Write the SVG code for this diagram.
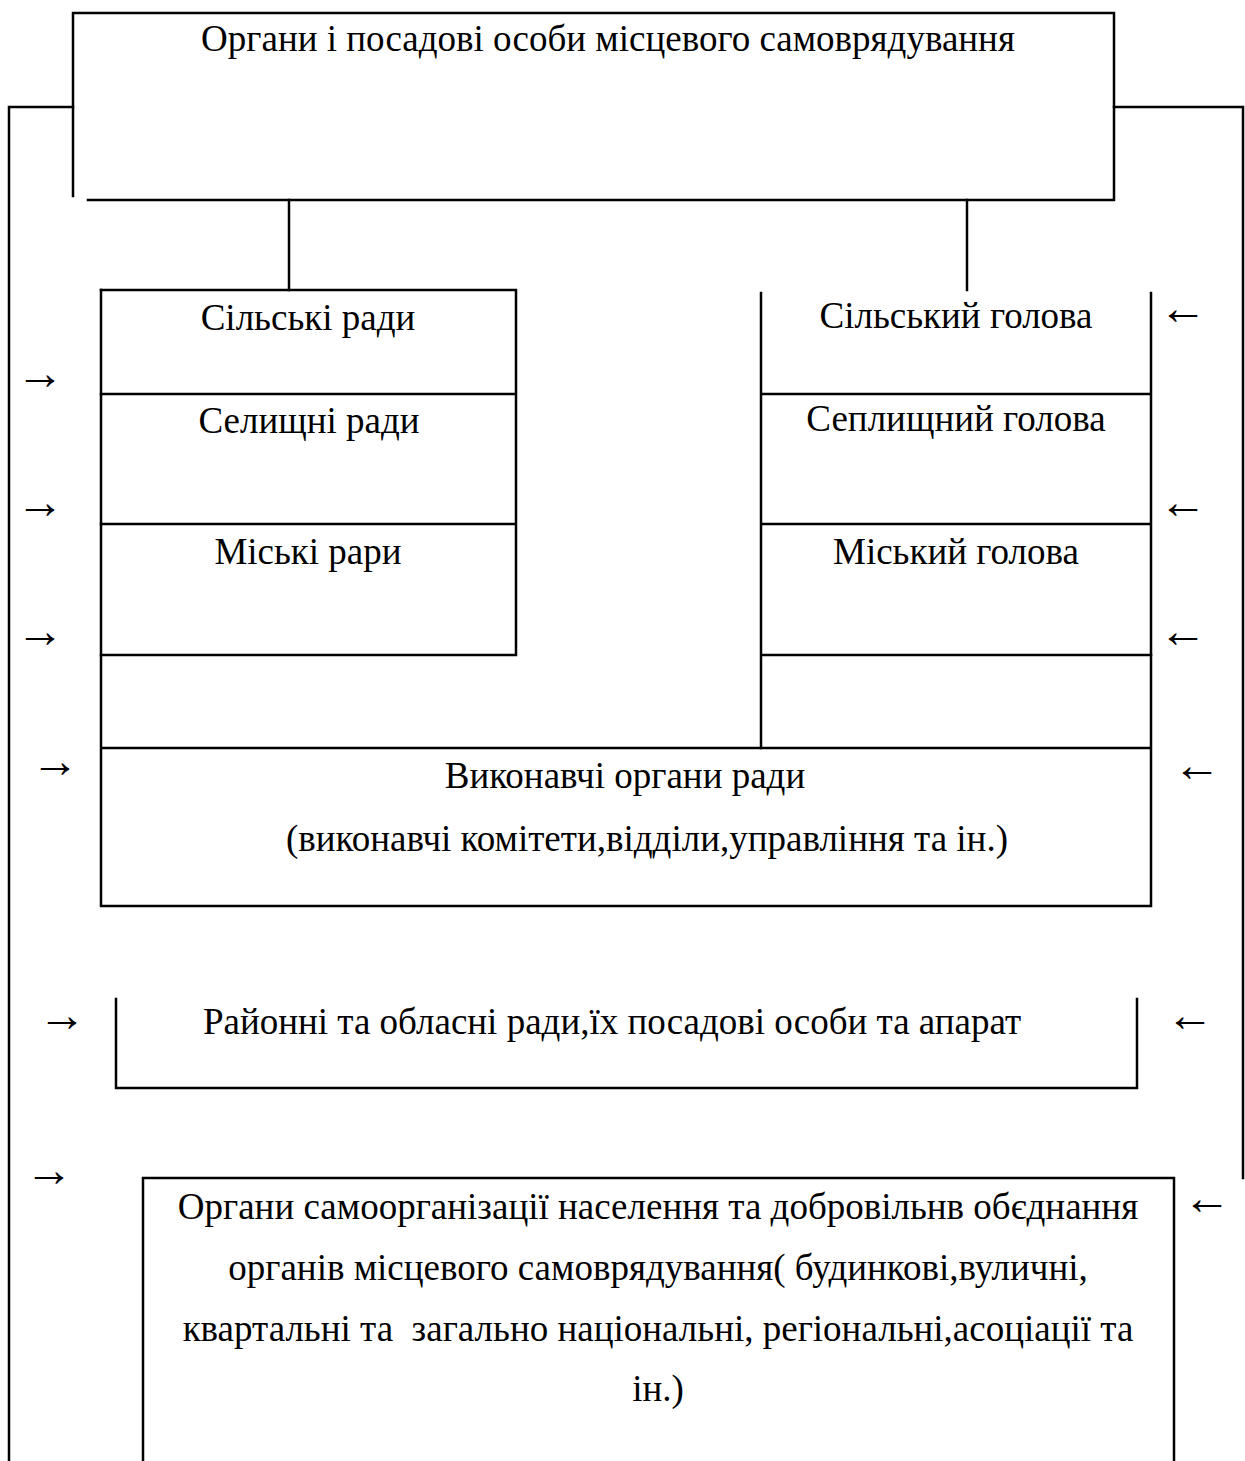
<svg xmlns="http://www.w3.org/2000/svg" width="1245" height="1461" viewBox="0 0 1245 1461">
<style>
  .ln { stroke: #000; stroke-width: 2.5; fill: none; stroke-linecap: square; }
  .t { font-family: "Liberation Serif", "Times New Roman", serif; font-size: 37px; fill: #000; text-anchor: middle; }
  .ar { font-family: "Liberation Serif", "DejaVu Serif", serif; font-size: 48px; fill: #000; text-anchor: middle; }
</style>
<rect width="1245" height="1461" fill="#fff"/>

<g id="top">
  <path class="ln" d="M73,196 V13 H1114 V200 H88"/>
  <text class="t" x="608" y="51">Органи і посадові особи місцевого самоврядування</text>
</g>

<g id="councils">
  <path class="ln" d="M101,290 H516 V655 M101,394 H516 M101,524 H516 M101,655 H516"/>
  <text class="t" x="308" y="330">Сільські ради</text>
  <text class="t" x="309" y="433">Селищні ради</text>
  <text class="t" x="308" y="564">Міські рари</text>
</g>

<g id="heads">
  <path class="ln" d="M761,293 V748 M1151,293 V655 M761,394 H1151 M761,524 H1151 M761,655 H1151"/>
  <text class="t" x="956" y="328">Сільський голова</text>
  <text class="t" x="956" y="431">Сеплищний голова</text>
  <text class="t" x="956" y="564">Міський голова</text>
</g>

<g id="executive">
  <path class="ln" d="M101,290 V906 H1151 V655 M101,748 H1151"/>
  <text class="t" x="625" y="788">Виконавчі органи ради</text>
  <text class="t" x="647" y="851">(виконавчі комітети,відділи,управління та ін.)</text>
</g>

<g id="district">
  <path class="ln" d="M116,999 V1088 H1137 V999"/>
  <text class="t" x="612" y="1034">Районні та обласні ради,їх посадові особи та апарат</text>
</g>

<g id="selforg">
  <path class="ln" d="M143,1461 V1178 H1174 V1461"/>
  <text class="t" x="658" y="1219">Органи самоорганізації населення та добровільнв обєднання</text>
  <text class="t" x="658" y="1280">органів місцевого самоврядування( будинкові,вуличні,</text>
  <text class="t" x="658" y="1341" xml:space="preserve">квартальні та  загально національні, регіональні,асоціації та</text>
  <text class="t" x="658" y="1401">ін.)</text>
</g>

<g id="connectors">
  <path class="ln" d="M289,200 V290"/>
  <path class="ln" d="M967,200 V290"/>
  <path class="ln" d="M73,107 H9 V1461"/>
  <path class="ln" d="M1114,107 H1243 V1178"/>
  <text class="ar" x="40" y="389">→</text>
  <text class="ar" x="40" y="518">→</text>
  <text class="ar" x="40" y="647">→</text>
  <text class="ar" x="55" y="777">→</text>
  <text class="ar" x="62" y="1031">→</text>
  <text class="ar" x="49" y="1186">→</text>
  <text class="ar" x="1183" y="324">←</text>
  <text class="ar" x="1183" y="518">←</text>
  <text class="ar" x="1183" y="647">←</text>
  <text class="ar" x="1197" y="781">←</text>
  <text class="ar" x="1190" y="1031">←</text>
  <text class="ar" x="1207" y="1214">←</text>
</g>
</svg>
